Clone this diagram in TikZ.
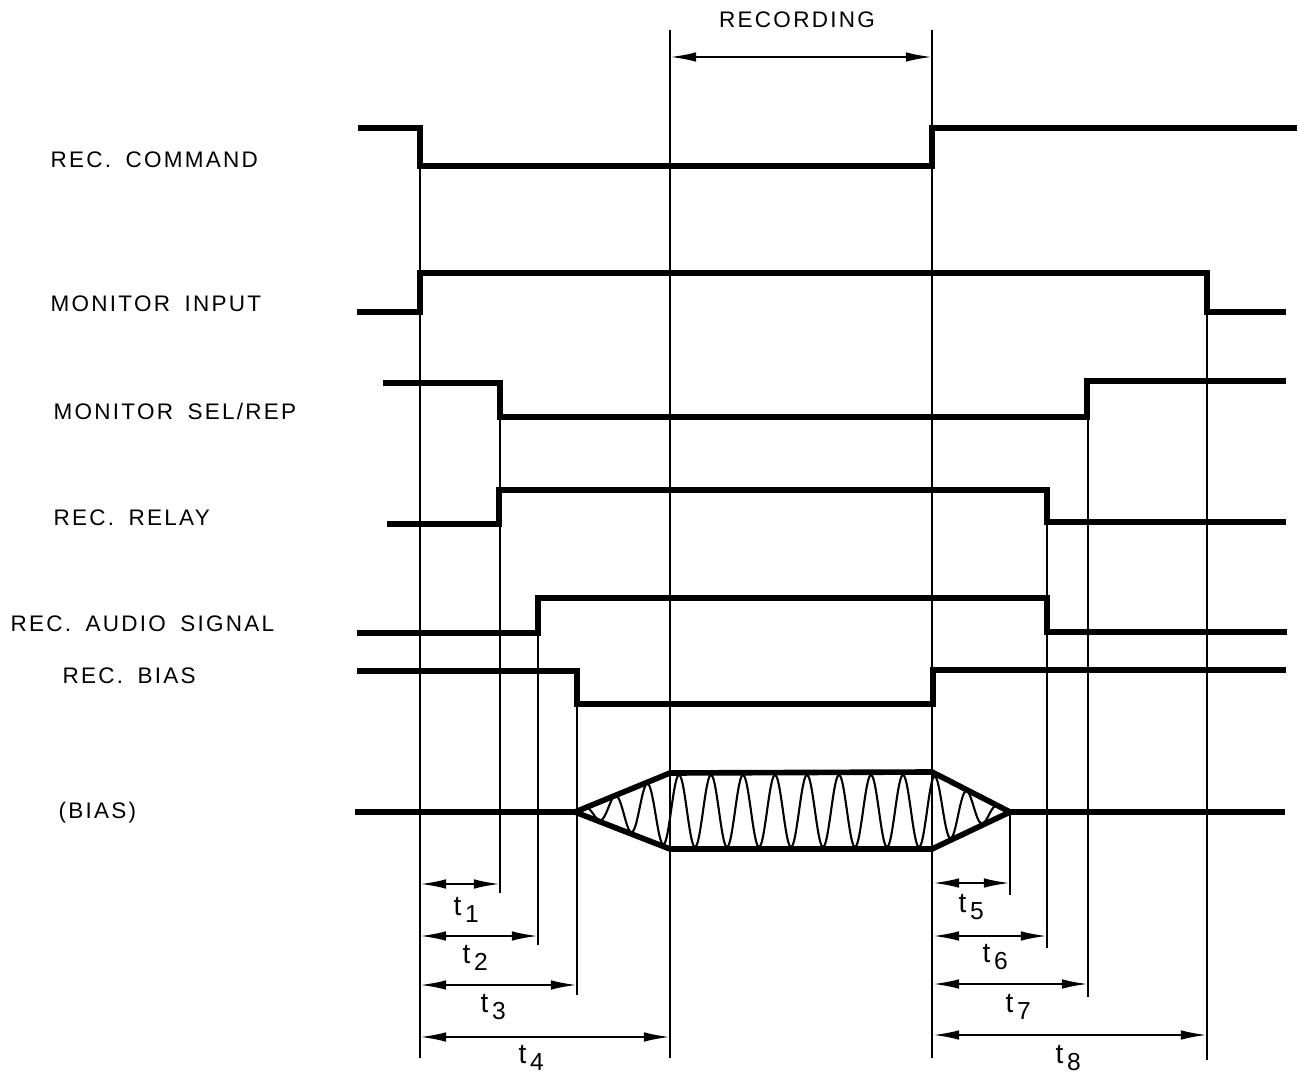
\documentclass[tikz,border=0pt]{standalone}
\usepackage{fontspec}
\setmainfont{Liberation Sans}[LetterSpace=10,WordSpace=1.7]
\usetikzlibrary{arrows.meta}
\begin{document}
\begin{tikzpicture}[x=0.01cm,y=-0.01cm,
  sig/.style={line width=1.6pt},
  thin/.style={line width=0.6pt},
  dim/.style={line width=0.6pt,{Latex[length=2.6mm,width=0.95mm]}-{Latex[length=2.6mm,width=0.95mm]}},
  lbl/.style={anchor=base west,inner sep=0pt,font=\fontsize{6.4pt}{7pt}\selectfont},
  tl/.style={anchor=base west,inner sep=0pt,font=\fontsize{8pt}{9pt}\selectfont},
  declare function={env(\u)=36*max(0,min(1,min((\u-575)/95,(1010-\u)/78)));}]
\useasboundingbox (0,0) rectangle (1299,1073);

% labels
\node[lbl] (lcmd) at (50,168) {REC. COMMAND};
\node[lbl] (lmon) at (50,312) {MONITOR INPUT};
\node[lbl] (lsel) at (53,420) {MONITOR SEL/REP};
\node[lbl] (lrel) at (53,525) {REC. RELAY};
\node[lbl] (laud) at (10,631) {REC. AUDIO SIGNAL};
\node[lbl] (lbias) at (62,683) {REC. BIAS};
\node[lbl] (lbw) at (58,818) {(BIAS)};
\node[lbl,anchor=base] (lrec) at (797,28) {RECORDING};

% thin timing lines
\draw[thin] (420,166) -- (420,1058);
\draw[thin] (500,417) -- (500,893);
\draw[thin] (538,598) -- (538,945);
\draw[thin] (577,705) -- (577,995);
\draw[thin] (670,30) -- (670,1058);
\draw[thin] (932,30) -- (932,1058);
\draw[thin] (1010,812) -- (1010,895);
\draw[thin] (1047,522) -- (1047,948);
\draw[thin] (1088,381) -- (1088,997);
\draw[thin] (1207,312) -- (1207,1060);

% signals
\draw[sig] (358,128) -- (420,128) -- (420,166) -- (932,166) -- (932,128) -- (1297,128);
\draw[sig] (357,312) -- (420,312) -- (420,273) -- (1207,273) -- (1207,312) -- (1286,312);
\draw[sig] (383,383) -- (500,383) -- (500,417) -- (1087,417) -- (1087,381) -- (1286,381);
\draw[sig] (387,524) -- (499,524) -- (499,490) -- (1047,490) -- (1047,522) -- (1286,522);
\draw[sig] (357,633) -- (538,633) -- (538,598) -- (1047,598) -- (1047,632) -- (1287,632);
\draw[sig] (357,671) -- (577,671) -- (577,704) -- (933,704) -- (933,670) -- (1286,670);

% bias waveform
\draw[sig] (355,812) -- (575,812);
\draw[sig] (1010,812) -- (1285,812);
\draw[sig,line join=round] (575,812) -- (670,773) -- (932,772) -- (1010,812) -- (932,849) -- (670,849) -- cycle;
\draw[thin] plot[domain=575:1010,samples=700] (\x,{811-env(\x)*sin((\x-575)*11.25)});

% dimension arrows
\coordinate (r1) at (670,57); \coordinate (r2) at (932,57);
\draw[dim] (r1) -- (r2);
\coordinate (a0) at (420,884); \coordinate (a1) at (500,884);
\coordinate (b0) at (420,936); \coordinate (b1) at (538,936);
\coordinate (c0) at (420,985); \coordinate (c1) at (577,985);
\coordinate (d0) at (420,1037); \coordinate (d1) at (670,1037);
\coordinate (e0) at (933,883); \coordinate (e1) at (1010,883);
\coordinate (f0) at (933,936); \coordinate (f1) at (1047,936);
\coordinate (g0) at (933,984); \coordinate (g1) at (1088,984);
\coordinate (h0) at (933,1035); \coordinate (h1) at (1207,1035);
\draw[dim] (a0) -- (a1);
\draw[dim] (b0) -- (b1);
\draw[dim] (c0) -- (c1);
\draw[dim] (d0) -- (d1);
\draw[dim] (e0) -- (e1);
\draw[dim] (f0) -- (f1);
\draw[dim] (g0) -- (g1);
\draw[dim] (h0) -- (h1);

\newcommand{\tsub}[1]{t\kern1pt\raisebox{-2.2pt}{\fontsize{7pt}{8pt}\selectfont #1}}
\node[tl] (t1) at (453,915) {\tsub{1}};
\node[tl] (t2) at (462,963) {\tsub{2}};
\node[tl] (t3) at (480,1012) {\tsub{3}};
\node[tl] (t4) at (518,1063) {\tsub{4}};
\node[tl] (t5) at (958,912) {\tsub{5}};
\node[tl] (t6) at (982,962) {\tsub{6}};
\node[tl] (t7) at (1005,1012) {\tsub{7}};
\node[tl] (t8) at (1055,1063) {\tsub{8}};
\end{tikzpicture}
\end{document}
